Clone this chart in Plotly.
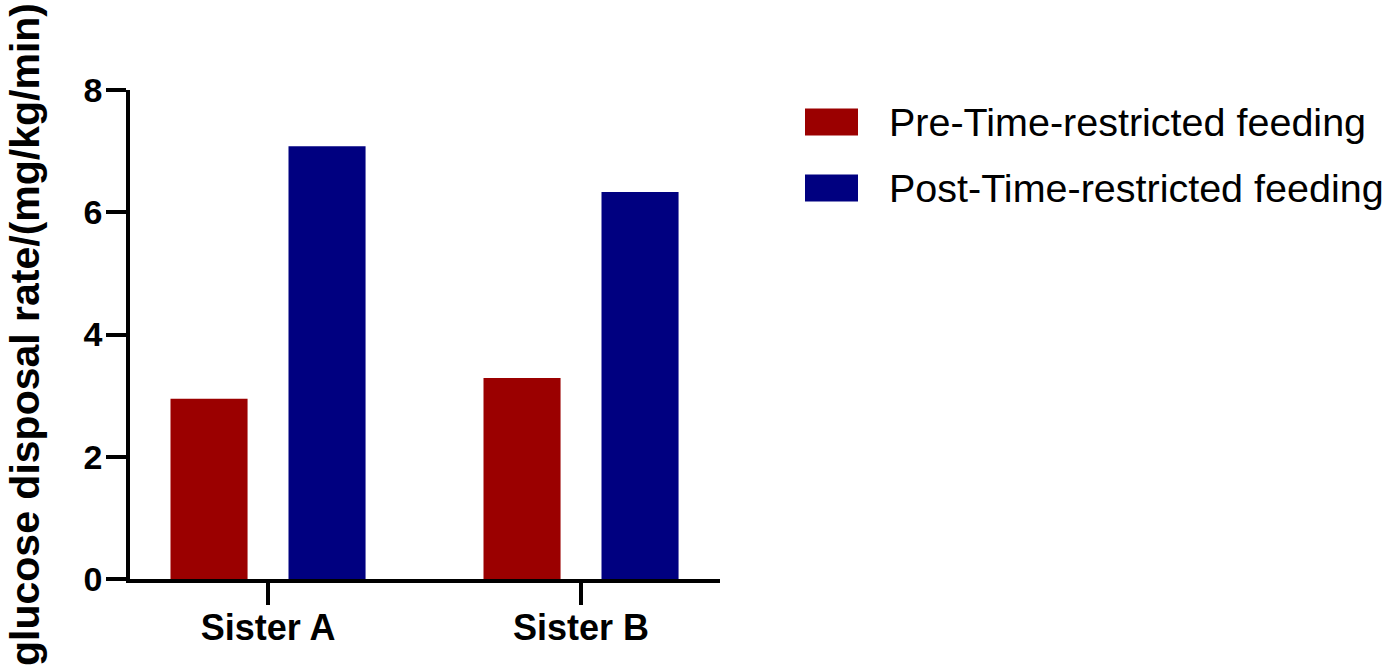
import plotly.graph_objects as go

categories = ["Sister A", "Sister B"]
series_names = ["Pre-Time-restricted feeding", "Post-Time-restricted feeding"]
pre_values = [2.95, 3.29]
post_values = [7.08, 6.33]
series_values = [pre_values, post_values]
series_colors = ["#9B0000", "#000080"]
y_tick_values = [0, 2, 4, 6, 8]
y_title = "glucose disposal rate/(mg/kg/min)"

FONT = "Liberation Sans, Arial, sans-serif"

fig = go.Figure()
for name, vals, col in zip(series_names, series_values, series_colors):
    fig.add_trace(go.Bar(
        x=categories, y=vals, name=name,
        marker=dict(color=col, line=dict(width=0)),
        showlegend=False,
    ))

# manual legend (large swatches like the original)
W, H = 1395, 668
L, R, T, B = 130, 675, 90, 89
pw, ph = W - L - R, H - T - B

def px2x(px):
    return (px - L) / pw

def py2y(py):
    return (H - B - py) / ph

shapes = []
annotations = []
for i, (name, col) in enumerate(zip(series_names, series_colors)):
    cy = 122 + i * 66
    shapes.append(dict(type="rect", xref="paper", yref="paper",
                       x0=px2x(805), x1=px2x(858),
                       y0=py2y(cy + 13.5), y1=py2y(cy - 13.5),
                       fillcolor=col, line=dict(width=0)))
    annotations.append(dict(xref="paper", yref="paper", x=px2x(887), y=py2y(cy),
                            xanchor="left", yanchor="middle", showarrow=False,
                            text=name, font=dict(family=FONT, size=39.5, color="black")))

fig.update_layout(
    width=W, height=H,
    margin=dict(l=L, r=R, t=T, b=B, autoexpand=False),
    paper_bgcolor="white", plot_bgcolor="white",
    barmode="group", bargap=0.246, bargroupgap=0.347,
    shapes=shapes, annotations=annotations,
    showlegend=False,
)
fig.update_xaxes(
    type="category", range=[-0.441, 1.444],
    showline=True, linecolor="black", linewidth=3.5,
    ticks="outside", ticklen=22, tickwidth=3.5, tickcolor="black",
    showgrid=False, zeroline=False, ticklabelstandoff=-8,
    tickfont=dict(family=FONT, size=36, color="black", weight="bold"),
    automargin=False,
)
fig.update_yaxes(
    range=[0, 8], tickvals=y_tick_values,
    showline=True, linecolor="black", linewidth=3.5,
    ticks="outside", ticklen=20, tickwidth=3.5, tickcolor="black",
    showgrid=False, zeroline=False, ticklabelstandoff=-3,
    tickfont=dict(family=FONT, size=34, color="black", weight="bold"),
    title=dict(text=y_title, standoff=32,
               font=dict(family=FONT, size=41, color="black", weight="bold")),
    automargin=False,
)

fig.write_html("out.html",
               config={"displayModeBar": False},
               post_script="document.body.style.margin='0px';document.body.style.overflow='hidden';")
